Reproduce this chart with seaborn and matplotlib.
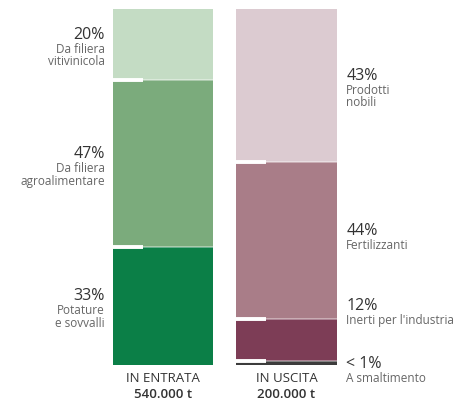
import pandas as pd
import seaborn as sns
import matplotlib.pyplot as plt

# Data
bars = ['IN ENTRATA', 'IN USCITA']
totals = ['540.000 t', '200.000 t']

in_labels = ['Da filiera\nvitivinicola', 'Da filiera\nagroalimentare', 'Potature\ne sovvalli']
in_values = [20, 47, 33]
in_text = ['20%', '47%', '33%']

out_labels = ['Prodotti\nnobili', 'Fertilizzanti', "Inerti per l'industria", 'A smaltimento']
out_values = [43, 44, 12, 1]
out_text = ['43%', '44%', '12%', '< 1%']

in_colors = ['#c4dcc4', '#7bab7c', '#0b7f47']
out_colors = ['#dccbd1', '#a97d88', '#7d3d56', '#3c3c3c']

sns.set_theme(style='white')
plt.rcParams['font.family'] = ['Open Sans', 'DejaVu Sans']

fig = plt.figure(figsize=(4.62, 4.02), dpi=100)
ax = fig.add_axes([0, 0.0896, 1, 0.8856])

width = 0.81


def stack(values, colors, pos):
    # cumulative tops, from the top segment downwards
    tops = []
    acc = 100
    for v in values:
        tops.append(acc)
        acc -= v
    # draw biggest first so smaller ones sit on top
    for top, c in zip(tops, colors):
        df = pd.DataFrame({'bar': [bars[pos]], 'val': [top]})
        sns.barplot(data=df, x='bar', y='val', order=bars, color=c,
                    width=width, saturation=1, ax=ax, linewidth=0)
    return tops


in_tops = stack(in_values, in_colors, 0)
out_tops = stack(out_values, out_colors, 1)

# separators: faint line across, white notch on the left
for pos, tops in [(0, in_tops), (1, out_tops)]:
    left = pos - width / 2
    for t in tops[1:]:
        ax.hlines(t, left, left + width, color='white', lw=1.2, alpha=0.45, zorder=5)
        ax.hlines(t, left, left + width * 0.3, color='white', lw=2.8, zorder=6)

pct_col = '#333333'
txt_col = '#666666'

# left labels
for top, v, p, lab in zip(in_tops, in_values, in_text, in_labels):
    y = top - v / 2
    ax.annotate(p, (-width / 2, y), xytext=(-6, 2), textcoords='offset points',
                ha='right', va='bottom', fontsize=11.5, color=pct_col)
    ax.annotate(lab, (-width / 2, y), xytext=(-6, 2), textcoords='offset points',
                ha='right', va='top', fontsize=8.5, color=txt_col, linespacing=0.95)

# right labels
for top, v, p, lab in zip(out_tops, out_values, out_text, out_labels):
    y = top - v / 2
    dy = 2
    if v < 15:
        y = top
        dy = 4 if v > 5 else -7
    ax.annotate(p, (1 + width / 2, y), xytext=(7, dy), textcoords='offset points',
                ha='left', va='bottom', fontsize=11.5, color=pct_col)
    ax.annotate(lab, (1 + width / 2, y), xytext=(7, dy), textcoords='offset points',
                ha='left', va='top', fontsize=8.5, color=txt_col, linespacing=0.95)

# bottom captions
for i, (b, t) in enumerate(zip(bars, totals)):
    ax.annotate(b, (i, 0), xytext=(0, -4.5), textcoords='offset points',
                ha='center', va='top', fontsize=9.5, color=pct_col)
    ax.annotate(t, (i, 0), xytext=(0, -15.5), textcoords='offset points',
                ha='center', va='top', fontsize=9.5, color=pct_col, fontweight='semibold')

ax.set_xlim(-163 / 123.5, (462 - 163) / 123.5)
ax.set_ylim(0, 100)
ax.axis('off')

fig.savefig('out.png', dpi=100, facecolor='white')
